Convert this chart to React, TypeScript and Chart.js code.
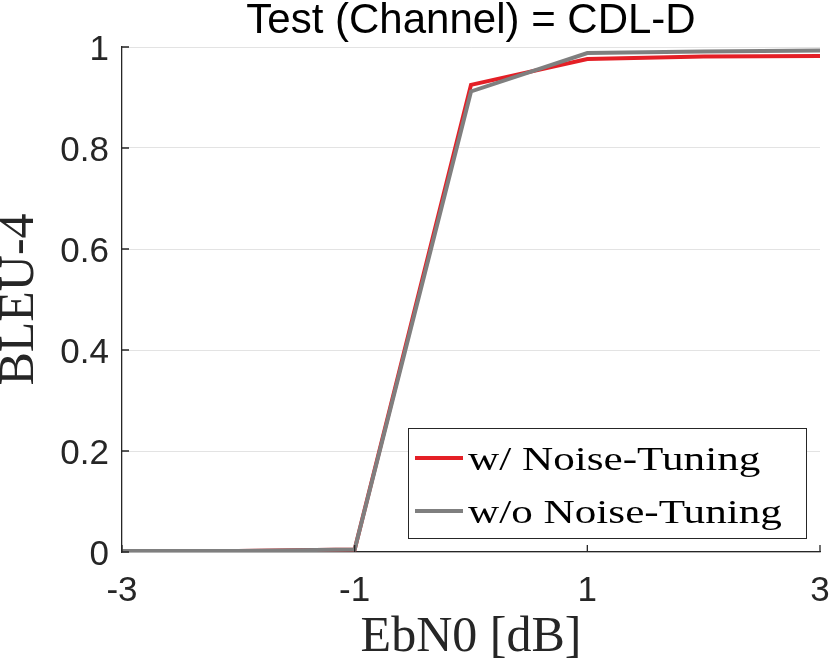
import { useEffect, useRef } from "react";
import { Chart, registerables, Plugin } from "chart.js";

Chart.register(...registerables);

// EbN0 [dB] sweep
const ebn0 = [-3, -2, -1, 0, 1, 2, 3];
// BLEU-4 per EbN0
const withTuning = [0.002, 0.002, 0.005, 0.925, 0.976, 0.981, 0.982];
const withoutTuning = [0.002, 0.002, 0.005, 0.912, 0.988, 0.991, 0.993];
const seriesLabels = ["w/ Noise-Tuning", "w/o Noise-Tuning"];
const seriesColors = ["#e41f26", "#7f7f7f"];

const SANS = "'Liberation Sans', Arial, Helvetica, sans-serif";
const SERIF = "'Liberation Serif', 'Times New Roman', serif";
const AXIS = "#262626";

// matlab style ticks pointing into the plot
const inwardTicks: Plugin = {
  id: "inwardTicks",
  afterDraw(chart) {
    const { ctx, chartArea: a } = chart;
    const xs = chart.scales.x;
    const ys = chart.scales.y;
    ctx.save();
    ctx.strokeStyle = AXIS;
    ctx.lineWidth = 1.3;
    ctx.beginPath();
    xs.ticks.forEach((t) => {
      const px = xs.getPixelForValue(t.value);
      ctx.moveTo(px, a.bottom);
      ctx.lineTo(px, a.bottom - 7);
    });
    ys.ticks.forEach((t) => {
      const py = ys.getPixelForValue(t.value);
      ctx.moveTo(a.left, py);
      ctx.lineTo(a.left + 7, py);
    });
    ctx.stroke();
    ctx.restore();
  },
};

// boxed legend in the lower right corner
const boxLegend: Plugin = {
  id: "boxLegend",
  afterDatasetsDraw(chart) {
    const { ctx, chartArea: a } = chart;
    const w = 398;
    const h = 110;
    const x0 = a.right - 14 - w;
    const y0 = a.bottom - 14 - h;
    ctx.save();
    ctx.fillStyle = "#fff";
    ctx.fillRect(x0, y0, w, h);
    ctx.strokeStyle = AXIS;
    ctx.lineWidth = 1;
    ctx.strokeRect(x0 + 0.5, y0 + 0.5, w, h);
    ctx.font = `34px ${SERIF}`;
    ctx.textBaseline = "alphabetic";
    ctx.fillStyle = "#000";
    chart.data.datasets.forEach((ds, i) => {
      const cy = y0 + 30 + i * 53;
      ctx.strokeStyle = ds.borderColor as string;
      ctx.lineWidth = 4;
      ctx.beginPath();
      ctx.moveTo(x0 + 7, cy);
      ctx.lineTo(x0 + 55, cy);
      ctx.stroke();
      ctx.save();
      ctx.translate(x0 + 60, cy + 12);
      ctx.scale(1.27, 1);
      ctx.fillText(ds.label as string, 0, 0);
      ctx.restore();
    });
    ctx.restore();
  },
};

export default function App() {
  const canvasRef = useRef<HTMLCanvasElement | null>(null);

  useEffect(() => {
    if (!canvasRef.current) return;
    const ctx = canvasRef.current.getContext("2d");
    if (!ctx) return;

    const chart = new Chart(ctx, {
      type: "line",
      data: {
        datasets: [
          {
            label: seriesLabels[0],
            data: ebn0.map((x, i) => ({ x, y: withTuning[i] })),
            borderColor: seriesColors[0],
            backgroundColor: seriesColors[0],
            borderWidth: 4,
            pointRadius: 0,
            order: 1,
          },
          {
            label: seriesLabels[1],
            data: ebn0.map((x, i) => ({ x, y: withoutTuning[i] })),
            borderColor: seriesColors[1],
            backgroundColor: seriesColors[1],
            borderWidth: 4,
            pointRadius: 0,
            order: 0,
          },
        ],
      },
      options: {
        responsive: false,
        animation: false,
        layout: { padding: { left: 0, right: 10, top: 0, bottom: 0 } },
        plugins: {
          legend: { display: false },
          tooltip: { enabled: false },
          title: {
            display: true,
            text: "Test (Channel) = CDL-D",
            color: "#000",
            fullSize: false,
            font: { family: SANS, size: 42, weight: "normal", lineHeight: 1 },
            padding: { top: 0, bottom: 5 },
          },
        },
        scales: {
          x: {
            type: "linear",
            min: -3,
            max: 3,
            afterFit: (s) => {
              s.height = 114;
              s.paddingLeft = 0;
              s.paddingRight = 0;
            },
            ticks: {
              stepSize: 2,
              color: AXIS,
              padding: 18,
              font: { family: SANS, size: 35 },
              callback: (v) => String(v),
            },
            grid: { display: false, drawTicks: false },
            border: { display: true, color: AXIS, width: 1.3 },
            title: {
              display: true,
              text: "EbN0 [dB]",
              color: AXIS,
              font: { family: SERIF, size: 50, lineHeight: 1 },
              padding: { top: 0, bottom: 3 },
            },
          },
          y: {
            min: 0,
            max: 1,
            afterFit: (s) => {
              s.width = 122;
              s.paddingTop = 0;
              s.paddingBottom = 0;
            },
            ticks: {
              stepSize: 0.2,
              color: AXIS,
              padding: 13,
              labelOffset: 3,
              font: { family: SANS, size: 35 },
              callback: (v) => String(Number(Number(v).toFixed(1))),
            },
            grid: { color: "#e3e3e3", lineWidth: 1, drawTicks: false },
            border: { display: true, color: AXIS, width: 1.3 },
            title: {
              display: true,
              text: "BLEU-4",
              color: AXIS,
              font: { family: SERIF, size: 50, lineHeight: 0.8 },
              padding: { top: 0, bottom: 0 },
            },
          },
        },
      },
      plugins: [inwardTicks, boxLegend],
    });

    return () => chart.destroy();
  }, []);

  return (
    <div style={{ position: "absolute", left: 0, top: 0, width: 830, height: 666, background: "#fff" }}>
      <canvas ref={canvasRef} width={830} height={666} />
    </div>
  );
}
